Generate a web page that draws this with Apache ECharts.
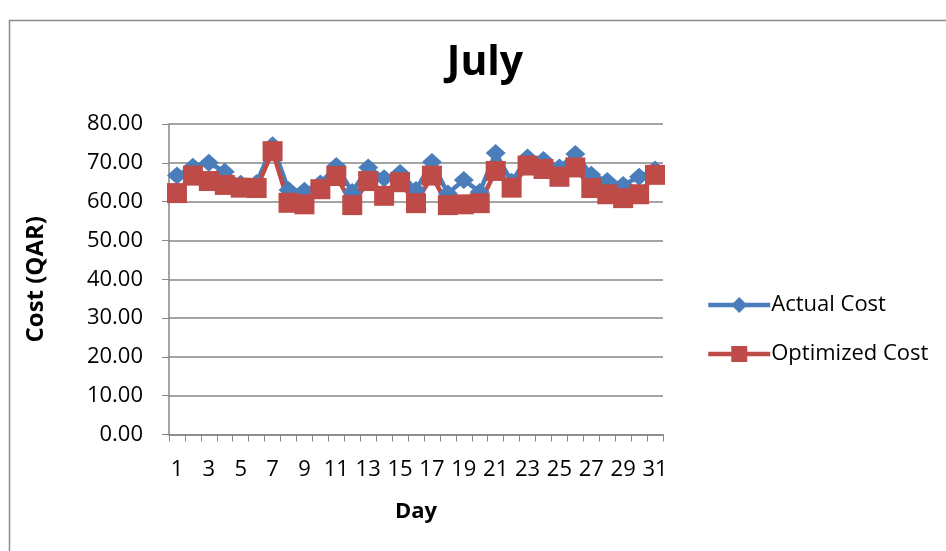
<!DOCTYPE html>
<html>
<head>
<meta charset="utf-8">
<style>
  html, body { margin: 0; padding: 0; background: #fff; }
  #chart { width: 946px; height: 551px; }
</style>
<script src="https://cdn.jsdelivr.net/npm/echarts@6/dist/echarts.min.js"></script>
</head>
<body>
<div id="chart"></div>
<script>
// Daily cost for July, actual vs optimized (QAR)
const days = Array.from({ length: 31 }, (_, i) => String(i + 1));
const actualCost = [
  66.7, 69.0, 70.0, 67.7, 64.6, 64.8, 74.5, 63.0, 62.8, 64.7,
  69.2, 62.5, 68.8, 66.0, 67.4, 63.0, 70.2, 62.1, 65.6, 62.5,
  72.5, 65.1, 71.4, 70.7, 68.8, 72.3, 66.9, 65.3, 64.3, 66.4, 68.3
];
const optimizedCost = [
  62.2, 66.7, 65.3, 64.3, 63.6, 63.5, 73.0, 59.7, 59.3, 63.2,
  66.6, 59.1, 65.3, 61.5, 65.0, 59.6, 66.7, 59.1, 59.3, 59.6,
  67.9, 63.6, 69.3, 68.4, 66.4, 68.8, 63.5, 61.9, 60.9, 61.9, 66.9
];

const font = '"Open Sans", "Noto Sans", sans-serif';
const axisGray = '#868686';
const blue = '#4a7ebb';
const red = '#be4b48';

const chart = echarts.init(document.getElementById('chart'), null, { renderer: 'canvas' });
chart.setOption({
  backgroundColor: '#ffffff',
  animation: false,
  title: {
    text: 'July',
    left: 480,
    top: 38,
    textAlign: 'center',
    textStyle: { fontFamily: font, fontWeight: 'bold', fontSize: 41, color: '#000' }
  },
  graphic: [{
    type: 'rect',
    shape: { x: 9.5, y: 20.5, width: 1000, height: 600 },
    style: { fill: 'none', stroke: '#8c8c8c', lineWidth: 1.5 },
    silent: true,
    z: -1
  }],
  legend: {
    orient: 'vertical',
    left: 701,
    top: 289,
    itemGap: 27,
    itemWidth: 62,
    itemHeight: 20,
    lineStyle: { width: 4.5 },
    textStyle: { fontFamily: font, fontSize: 22, color: '#000', padding: [0, 0, 0, -4] },
    data: ['Actual Cost', 'Optimized Cost']
  },
  grid: { left: 169, right: 283, top: 124, bottom: 116.5, containLabel: false },
  xAxis: {
    type: 'category',
    data: days,
    boundaryGap: true,
    name: 'Day',
    nameLocation: 'middle',
    nameGap: 66,
    nameTextStyle: { fontFamily: font, fontWeight: 'bold', fontSize: 22, color: '#000' },
    axisLine: { lineStyle: { color: axisGray, width: 1.5 } },
    axisTick: { show: true, interval: 0, length: 7, alignWithLabel: false, lineStyle: { color: axisGray } },
    axisLabel: { interval: 1, margin: 24, fontFamily: font, fontSize: 22, color: '#000' }
  },
  yAxis: {
    type: 'value',
    min: 0,
    max: 80,
    interval: 10,
    name: 'Cost (QAR)',
    nameLocation: 'middle',
    nameGap: 121,
    nameRotate: 90,
    nameTextStyle: { fontFamily: font, fontWeight: 'bold', fontSize: 24, color: '#000' },
    axisLine: { show: true, lineStyle: { color: axisGray, width: 1.5 } },
    axisTick: { show: true, length: 7, lineStyle: { color: axisGray } },
    axisLabel: {
      margin: 26,
      fontFamily: font,
      fontSize: 22,
      color: '#000',
      formatter: v => v.toFixed(2)
    },
    splitLine: { show: true, lineStyle: { color: axisGray, width: 1.5 } }
  },
  series: [
    {
      name: 'Actual Cost',
      type: 'line',
      data: actualCost,
      symbol: 'diamond',
      symbolSize: [20, 18],
      showAllSymbol: true,
      lineStyle: { color: blue, width: 4.5 },
      itemStyle: { color: blue }
    },
    {
      name: 'Optimized Cost',
      type: 'line',
      data: optimizedCost,
      symbol: 'rect',
      symbolSize: 20,
      showAllSymbol: true,
      lineStyle: { color: red, width: 4.5 },
      itemStyle: { color: red }
    }
  ]
});
</script>
</body>
</html>
